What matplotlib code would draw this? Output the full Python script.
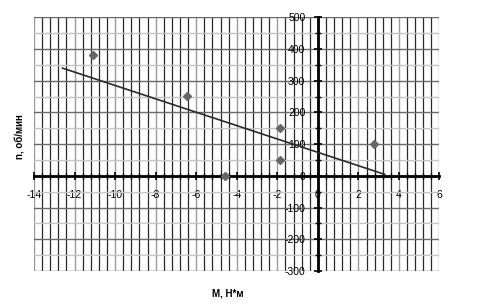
import numpy as np
import matplotlib
matplotlib.use("Agg")
import matplotlib.pyplot as plt
from matplotlib.ticker import MultipleLocator

# Data
torque = [-11.1, -6.45, -4.6, -1.85, -1.85, 2.75]
speed = [380, 252, 0, 150, 50, 100]
trend_x = [-12.6, 3.3]
x_ticks = [-14, -12, -10, -8, -6, -4, -2, 0, 2, 4, 6]
y_ticks = [-300, -200, -100, 0, 100, 200, 300, 400, 500]
x_label = "M, Н*м"
y_label = "n, об/мин"

plt.rcParams['font.family'] = ['Liberation Sans', 'DejaVu Sans']

fig = plt.figure(figsize=(4.81, 3.05), dpi=100)
ax = fig.add_axes([34/481, 1-271/305, (439.5-34)/481, (271-17.3)/305])

ax.set_xlim(-14, 6)
ax.set_ylim(-300, 500)

# grid
ax.xaxis.set_major_locator(MultipleLocator(2))
ax.xaxis.set_minor_locator(MultipleLocator(0.4))
ax.yaxis.set_major_locator(MultipleLocator(100))
ax.yaxis.set_minor_locator(MultipleLocator(50))
ax.set_xticks(x_ticks)
ax.set_yticks(y_ticks)
ax.grid(which='minor', axis='x', color='#2a2a2a', lw=0.9)
ax.grid(which='major', axis='x', color='#9a9a9a', lw=1.0)
ax.grid(which='major', axis='y', color='#6a6a6a', lw=1.0)
ax.grid(which='minor', axis='y', color='#c4c4c4', lw=1.0)
ax.set_axisbelow(True)

# spines through origin
ax.spines['left'].set_position(('data', 0))
ax.spines['bottom'].set_position(('data', 0))
ax.spines['right'].set_visible(False)
ax.spines['top'].set_visible(False)
for s in ('left', 'bottom'):
    ax.spines[s].set_linewidth(2.0)
    ax.spines[s].set_color('black')

ax.tick_params(which='major', direction='inout', length=6, width=1.2, colors='black',
               labelsize=7.5)
ax.tick_params(axis='x', which='major', pad=7)
ax.tick_params(axis='y', which='major', pad=6)
ax.tick_params(which='minor', direction='inout', length=5, width=1.0, colors='black')
ax.set_xticklabels([str(v) for v in x_ticks])
ax.set_yticklabels([str(v) for v in y_ticks])

# data and trend
ax.plot(torque, speed, linestyle='none', marker='D', markersize=4.2,
        color='#666666', zorder=5, clip_on=False)
k, b = np.polyfit(torque, speed, 1)
tx = np.array(trend_x)
ax.plot(tx, k*tx + b, color='#2b2b2b', lw=1.2, zorder=4)

fig.text(20/481, 1-137/305, y_label, rotation=90, ha='center', va='center',
         fontsize=7, fontweight='bold')
fig.text(228/481, 1-293/305, x_label, ha='center', va='center',
         fontsize=7, fontweight='bold')

fig.savefig("out.png", dpi=100)
